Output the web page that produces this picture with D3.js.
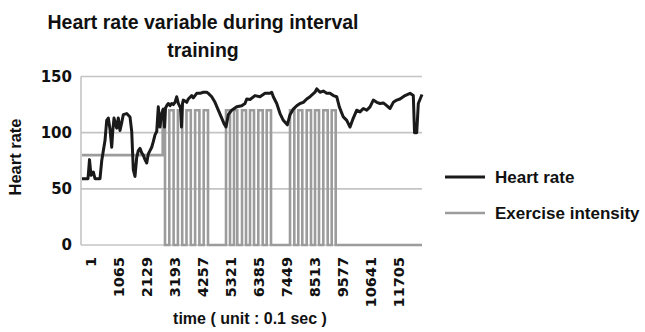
<!DOCTYPE html>
<html>
<head>
<meta charset="utf-8">
<script src="https://cdn.jsdelivr.net/npm/d3@7"></script>
<style>
  html, body { margin: 0; padding: 0; background: #fff; }
  svg { display: block; }
</style>
</head>
<body>
<svg id="chart" width="645" height="332"></svg>
<script>
// ---- data ----
const titleLines = ["Heart rate variable during interval", "training"];
const yTicks = [0, 50, 100, 150];
const xTickLabels = [1, 1065, 2129, 3193, 4257, 5321, 6385, 7449, 8513, 9577, 10641, 11705];
const timeMax = 12920;

const hrTime = [1, 229, 286, 343, 430, 495, 685, 750, 875, 940, 1000, 1065, 1130, 1168, 1217, 1320, 1380, 1445,
  1510, 1570, 1700, 1825, 1890, 1950, 2015, 2080, 2140, 2205, 2270, 2330, 2395, 2460, 2520, 2585, 2650, 2710,
  2775, 2840, 2900, 2965, 3030, 3090, 3136, 3174, 3220, 3280, 3345, 3410, 3470, 3535, 3600, 3660, 3744, 3782,
  3820, 3850, 3980, 4040, 4170, 4230, 4360, 4485, 4610, 4740, 4800, 4930, 5055, 5180, 5310, 5397, 5473, 5560,
  5690, 5880, 6070, 6195, 6260, 6385, 6575, 6765, 6955, 7145, 7210, 7270, 7400, 7525, 7650, 7802, 7905, 8030,
  8160, 8285, 8410, 8540, 8665, 8855, 8920, 9045, 9170, 9300, 9425, 9550, 9680, 9778, 9930, 10060, 10185, 10310,
  10440, 10565, 10690, 10820, 10945, 11070, 11200, 11325, 11450, 11580, 11705, 11830, 11960, 12085, 12275, 12465,
  12590, 12636, 12720, 12780, 12920];
const hrValue = [59, 59, 76, 62, 65, 59, 59, 75, 93, 111, 113, 103, 87, 101, 113, 104, 113, 102,
  109, 116, 117, 114, 101, 67, 61, 78, 84, 86, 82, 80, 76, 73, 81, 84, 87, 92,
  98, 101, 123, 105, 117, 121, 105, 122, 124, 126, 124, 126, 125, 127, 132, 126, 122, 105,
  126, 129, 127, 130, 133, 131, 135, 135, 136, 136, 135, 132, 127, 120, 113, 108, 105, 116,
  120, 123, 124, 126, 130, 129.5, 133, 132, 135, 135, 136, 132, 126, 117, 111, 107, 116, 121,
  124, 126, 127, 130, 132, 136, 139, 136, 137, 135, 135, 133, 132, 123, 114, 111, 105, 113,
  120, 118.5, 121.5, 120, 123, 129, 127, 126, 126.5, 124, 121.5, 127, 129, 130, 133, 135,
  133, 100, 100, 126, 134];

const intensityTime = [1, 3067,
  3155, 3318, 3482, 3645, 3809, 3972, 4135, 4299, 4462, 4626, 4789,
  5473, 5625, 5777, 5902, 6081, 6233, 6385, 6537, 6700, 6867, 7019, 7183,
  7905, 8068, 8220, 8372, 8539, 8703, 8855, 9007, 9170, 9337, 9489, 9641,
  12920];
const intensityLevel = [80, 120,
  0, 120, 0, 120, 0, 120, 0, 120, 0, 120, 0,
  120, 0, 120, 0, 120, 0, 120, 0, 120, 0, 120, 0,
  120, 0, 120, 0, 120, 0, 120, 0, 120, 0, 120, 0,
  0];

const seriesNames = ["Heart rate", "Exercise intensity"];
const seriesColors = ["#1a1a1a", "#9c9c9c"];

// ---- layout ----
const svg = d3.select("#chart");
const plot = { left: 81, right: 422, top: 76.5, bottom: 245 };
const x = d3.scaleLinear().domain([1, timeMax]).range([82, 422]);
const y = d3.scaleLinear().domain([0, 150]).range([plot.bottom, plot.top]);
const labelShift = 8;

// title
svg.append("g").selectAll("text").data(titleLines).join("text")
  .attr("x", 203)
  .attr("y", (d, i) => 29 + i * 27.5)
  .attr("text-anchor", "middle")
  .attr("font-family", "Liberation Sans, Arial, sans-serif")
  .attr("font-weight", "bold")
  .attr("font-size", 19.5)
  .attr("fill", "#111")
  .text(d => d);

// gridlines
svg.append("g").selectAll("line").data(yTicks).join("line")
  .attr("x1", plot.left).attr("x2", plot.right)
  .attr("y1", d => y(d)).attr("y2", d => y(d))
  .attr("stroke", "#c4c4c4").attr("stroke-width", 1.6);

// left axis line
svg.append("line")
  .attr("x1", plot.left).attr("x2", plot.left)
  .attr("y1", plot.top).attr("y2", plot.bottom)
  .attr("stroke", "#c4c4c4").attr("stroke-width", 1.6);

// y axis labels
const yAxis = svg.append("g")
  .attr("transform", `translate(${plot.left},0)`)
  .call(d3.axisLeft(y).tickValues(yTicks).tickSize(0).tickPadding(9));
yAxis.select(".domain").remove();
yAxis.selectAll("text")
  .attr("font-family", "DejaVu Sans, sans-serif")
  .attr("font-weight", "bold")
  .attr("font-size", 15)
  .attr("fill", "#111");

// x axis labels
const xAxis = svg.append("g")
  .attr("transform", `translate(${labelShift},${plot.bottom})`)
  .call(d3.axisBottom(x).tickValues(xTickLabels).tickSize(0).tickFormat(d3.format("d")));
xAxis.select(".domain").remove();
xAxis.selectAll("text")
  .attr("transform", "rotate(-90)")
  .attr("x", -12)
  .attr("y", 0)
  .attr("dy", "0.36em")
  .attr("text-anchor", "end")
  .attr("font-family", "DejaVu Sans, sans-serif")
  .attr("font-weight", "bold")
  .attr("font-size", 14.5)
  .attr("fill", "#111");

// exercise intensity (step)
const intensityData = intensityTime.map((t, i) => ({ t, v: intensityLevel[i] }));
svg.append("path")
  .datum(intensityData)
  .attr("fill", "none")
  .attr("stroke", seriesColors[1])
  .attr("stroke-width", 2.6)
  .attr("d", d3.line().x(d => x(d.t)).y(d => y(d.v)).curve(d3.curveStepAfter));

// heart rate line
const hrData = hrTime.map((t, i) => ({ t, v: hrValue[i] }));
svg.append("path")
  .datum(hrData)
  .attr("fill", "none")
  .attr("stroke", seriesColors[0])
  .attr("stroke-width", 3)
  .attr("stroke-linejoin", "round")
  .attr("d", d3.line().x(d => x(d.t)).y(d => y(d.v)));

// axis titles
svg.append("text")
  .attr("transform", "translate(21,157) rotate(-90)")
  .attr("text-anchor", "middle")
  .attr("font-family", "Liberation Sans, Arial, sans-serif")
  .attr("font-weight", "bold")
  .attr("font-size", 16.5)
  .attr("fill", "#111")
  .text("Heart rate");

svg.append("text")
  .attr("x", 250).attr("y", 324)
  .attr("text-anchor", "middle")
  .attr("font-family", "Liberation Sans, Arial, sans-serif")
  .attr("font-weight", "bold")
  .attr("font-size", 16)
  .attr("fill", "#111")
  .text("time ( unit : 0.1 sec )");

// legend
const legend = svg.append("g").selectAll("g").data(seriesNames).join("g")
  .attr("transform", (d, i) => `translate(445,${177 + i * 36})`);
legend.append("line")
  .attr("x1", 0).attr("x2", 40).attr("y1", 0).attr("y2", 0)
  .attr("stroke", (d, i) => seriesColors[i])
  .attr("stroke-width", (d, i) => i === 0 ? 3 : 2.6);
legend.append("text")
  .attr("x", 50).attr("y", 6)
  .attr("font-family", "Liberation Sans, Arial, sans-serif")
  .attr("font-weight", "bold")
  .attr("font-size", 17)
  .attr("fill", "#111")
  .text(d => d);
</script>
</body>
</html>
